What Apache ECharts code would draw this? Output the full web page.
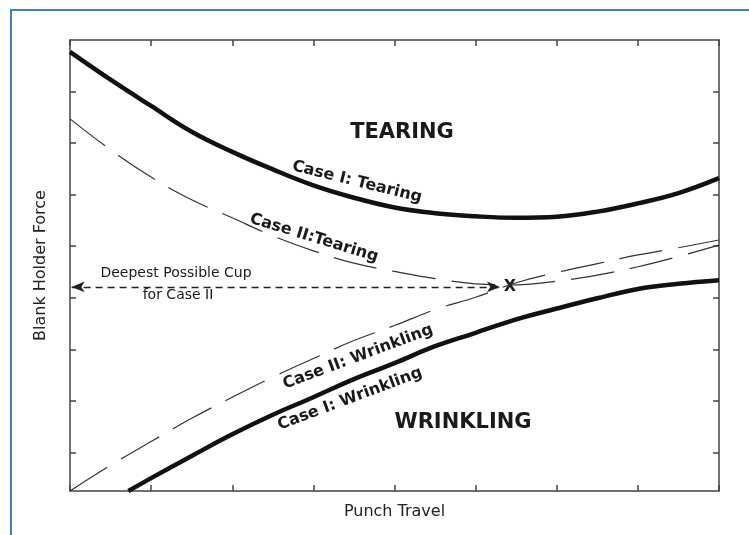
<!DOCTYPE html>
<html>
<head>
<meta charset="utf-8">
<script src="https://cdn.jsdelivr.net/npm/echarts@6/dist/echarts.min.js"></script>
<style>
html,body{margin:0;padding:0;background:#fff;}
#c{width:749px;height:535px;}
</style>
</head>
<body>
<div id="c"></div>
<script>
// ---- data (arbitrary units) ----
const travel = [0,0.5,1,1.5,2,2.5,3,3.5,4,4.5,5,5.5,6,6.5,7,7.5,8];
const case1Tearing   = [8.52,7.98,7.47,6.97,6.58,6.24,5.93,5.69,5.50,5.39,5.33,5.30,5.32,5.42,5.58,5.78,6.07];
const case2Tearing   = [7.22,6.62,6.09,5.65,5.30,4.95,4.66,4.42,4.26,4.12,4.02,4.00,4.07,4.19,4.35,4.55,4.77];
const case2Wrinkling = [0.00,0.50,0.96,1.41,1.82,2.21,2.57,2.92,3.21,3.52,3.76,4.04,4.24,4.41,4.58,4.72,4.87];
const case1WrinklingX = [0.72,1,1.5,2,2.5,3,3.5,4,4.5,5,5.5,6,6.5,7,7.5,8];
const case1Wrinkling  = [0.00,0.25,0.68,1.10,1.48,1.82,2.17,2.48,2.81,3.07,3.33,3.54,3.74,3.92,4.02,4.09];
const arrowSpan = [0.02, 5.30];
const arrowLevel = 3.96;
const xTicks = [0,1,2,3,4,5,6,7,8];
const yTicks = [0.75,1.75,2.75,3.75,4.75,5.75,6.75,7.75];
const texts = {
  xName: 'Punch Travel', yName: 'Blank Holder Force',
  tearing: 'TEARING', wrinkling: 'WRINKLING',
  c1t: 'Case I: Tearing', c2t: 'Case II:Tearing',
  c2w: 'Case II: Wrinkling', c1w: 'Case I: Wrinkling',
  deep1: 'Deepest Possible Cup', deep2: 'for Case II', x: 'X'
};

const pair = (xs, ys) => xs.map((x, i) => [x, ys[i]]);
const FONT = '"DejaVu Sans", sans-serif';
const axisLine = {onZero:false, lineStyle:{color:'#444', width:1.5}};
const tick = {inside:true, length:6, lineStyle:{color:'#444', width:1.5}};

const chart = echarts.init(document.getElementById('c'));
const deg = d => d * Math.PI / 180;
function t(text, x, y, size, weight, rot) {
  return {type:'text', x:x, y:y, rotation: deg(rot||0), silent:true,
    style:{text:text, font: (weight||'normal') + ' ' + size + 'px ' + FONT, fill:'#1a1a1a',
      align:'center', verticalAlign:'middle', textAlign:'center', textVerticalAlign:'middle'}};
}

chart.setOption({
  animation:false,
  backgroundColor:'#fff',
  grid:{left:70, top:40, right:30, bottom:44, containLabel:false},
  xAxis:[
    {type:'value', position:'bottom', min:0, max:8, interval:1,
     axisLine:axisLine, axisTick:tick, axisLabel:{show:false}, splitLine:{show:false},
     name:texts.xName, nameLocation:'middle', nameGap:13,
     nameTextStyle:{fontFamily:FONT, fontSize:16, color:'#222'}},
    {type:'value', position:'top', min:0, max:8, interval:1,
     axisLine:axisLine, axisTick:tick, axisLabel:{show:false}, splitLine:{show:false}}
  ],
  yAxis:[
    {type:'value', position:'left', min:0, max:8.75,
     axisLine:Object.assign({show:true}, axisLine),
     axisTick:Object.assign({show:true, customValues:yTicks}, tick),
     axisLabel:{show:false, customValues:yTicks}, splitLine:{show:false},
     name:texts.yName, nameLocation:'middle', nameGap:21,
     nameTextStyle:{fontFamily:FONT, fontSize:16, color:'#222'}},
    {type:'value', position:'right', min:0, max:8.75,
     axisLine:Object.assign({show:true}, axisLine),
     axisTick:Object.assign({show:true, customValues:yTicks}, tick),
     axisLabel:{show:false, customValues:yTicks}, splitLine:{show:false}}
  ],
  series:[
    {name:'Case I: Tearing', type:'line', data:pair(travel, case1Tearing), smooth:0.4, showSymbol:false,
     lineStyle:{color:'#111', width:4.5}},
    {name:'Case II: Tearing', type:'line', data:pair(travel, case2Tearing), smooth:0.4, showSymbol:false,
     lineStyle:{color:'#333', width:1.2, type:[44,16]}},
    {name:'Case II: Wrinkling', type:'line', data:pair(travel, case2Wrinkling), smooth:0.4, showSymbol:false,
     lineStyle:{color:'#333', width:1.2, type:[44,16]}},
    {name:'Case I: Wrinkling', type:'line', data:pair(case1WrinklingX, case1Wrinkling), smooth:0.4, showSymbol:false,
     lineStyle:{color:'#111', width:4.5}},
    {name:'Deepest cup', type:'line', data:[], showSymbol:false,
     markLine:{silent:true, symbol:['arrow','arrow'], symbolSize:[8,13], label:{show:false},
       lineStyle:{color:'#222', width:1.3, type:[7,5]},
       emphasis:{disabled:true},
       data:[[{coord:[arrowSpan[0], arrowLevel]}, {coord:[arrowSpan[1], arrowLevel]}]]}}
  ],
  graphic:[
    {type:'rect', shape:{x:11, y:10, width:900, height:700}, silent:true,
     style:{fill:'none', stroke:'#4a7ebb', lineWidth:2}},
    t(texts.tearing, 402, 133, 21, 'bold'),
    t(texts.wrinkling, 463, 423, 21, 'bold'),
    t(texts.c1t, 357, 182, 16, 'bold', -14),
    t(texts.c2t, 314, 238, 16, 'bold', -17),
    t(texts.c2w, 358, 357, 16, 'bold', 20.5),
    t(texts.c1w, 350, 399, 16, 'bold', 20.5),
    t(texts.deep1, 176, 273, 14),
    t(texts.deep2, 178, 295, 14),
    t(texts.x, 510, 287, 16, 'bold')
  ]
});
</script>
</body>
</html>
